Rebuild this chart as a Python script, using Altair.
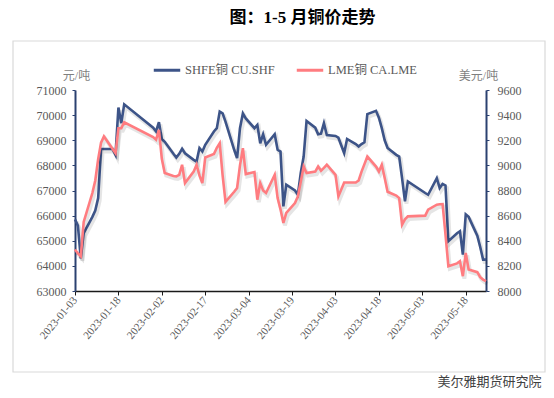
import altair as alt
import pandas as pd

dates = [
    "2023-01-03", "2023-01-04", "2023-01-05", "2023-01-06",
    "2023-01-09", "2023-01-10", "2023-01-11", "2023-01-12", "2023-01-13",
    "2023-01-16", "2023-01-17", "2023-01-18", "2023-01-19", "2023-01-20",
    "2023-01-30", "2023-01-31", "2023-02-01", "2023-02-02", "2023-02-03",
    "2023-02-06", "2023-02-07", "2023-02-08", "2023-02-09", "2023-02-10",
    "2023-02-13", "2023-02-14", "2023-02-15", "2023-02-16", "2023-02-17",
    "2023-02-20", "2023-02-21", "2023-02-22", "2023-02-23", "2023-02-24",
    "2023-02-27", "2023-02-28", "2023-03-01", "2023-03-02", "2023-03-03",
    "2023-03-06", "2023-03-07", "2023-03-08", "2023-03-09", "2023-03-10",
    "2023-03-13", "2023-03-14", "2023-03-15", "2023-03-16", "2023-03-17",
    "2023-03-20", "2023-03-21", "2023-03-22", "2023-03-23", "2023-03-24",
    "2023-03-27", "2023-03-28", "2023-03-29", "2023-03-30", "2023-03-31",
    "2023-04-03", "2023-04-04", "2023-04-06", "2023-04-07",
    "2023-04-10", "2023-04-11", "2023-04-12", "2023-04-13", "2023-04-14",
    "2023-04-17", "2023-04-18", "2023-04-19", "2023-04-20", "2023-04-21",
    "2023-04-24", "2023-04-25", "2023-04-26", "2023-04-27", "2023-04-28",
    "2023-05-04", "2023-05-05",
    "2023-05-08", "2023-05-09", "2023-05-10", "2023-05-11", "2023-05-12",
    "2023-05-15", "2023-05-16", "2023-05-17", "2023-05-18", "2023-05-19",
    "2023-05-22", "2023-05-23", "2023-05-24", "2023-05-25",
]

shfe = [
    65850, 65600, 64300, 65300,
    65950, 66200, 66700, 68650, 68650,
    68650, 68420, 70300, 69680, 70430,
    69500, 69350, 69720, 69050, 68940,
    68460, 68310, 68460, 68660, 68480,
    68220, 68150, 68690, 68550, 68820,
    69350, 69480, 70140, 70070, 69740,
    68620, 68290, 69480, 70070, 69870,
    69480, 69610, 68880, 69240, 68820,
    69240, 68620, 68550, 66370, 67230,
    67000, 66830, 67700, 68350, 69770,
    69500, 69240, 69260, 69680, 69210,
    69170, 69100, 68490, 69050,
    68850, 68750, 68850, 68920, 70040,
    70170, 69900, 69480, 69000, 68690,
    68420, 68350, 67490, 66570, 67360,
    66900, 66830,
    67490, 67100, 67260, 67200, 64980,
    65300, 65380, 64450, 66050, 65950,
    65200, 64750, 64250, 64250,
]

lme = [
    8330, 8300, 8276, 8550,
    8780, 8880, 9050, 9180, 9230,
    9130, 9097, 9296, 9296, 9343,
    9225, 9205, 9282, 9052, 8939,
    8915, 8912, 8925, 9005, 8859,
    8950, 9005, 8920, 8859, 9063,
    9090, 9140, 9177, 8920, 8710,
    8790, 8820, 9000, 9137, 8931,
    8947, 8727, 8859, 8800, 8780,
    8925, 8740, 8650, 8542, 8621,
    8700, 8753, 8870, 8991, 8939,
    8950, 8991, 8957, 8980, 9005,
    8925, 8753, 8864, 8864,
    8864, 8880, 8950, 9010, 9070,
    8990, 8951, 9005, 8900, 8790,
    8760, 8740, 8528, 8570, 8594,
    8600, 8647,
    8687, 8690, 8692, 8450, 8197,
    8220, 8237, 8118, 8303, 8171,
    8150, 8110, 8091, 8078,
]

tick_dates = ["2023-01-03", "2023-01-18", "2023-02-02", "2023-02-17", "2023-03-04",
              "2023-03-19", "2023-04-03", "2023-04-18", "2023-05-03", "2023-05-18"]
left_ticks = [63000, 64000, 65000, 66000, 67000, 68000, 69000, 70000, 71000]
right_ticks = [8000, 8200, 8400, 8600, 8800, 9000, 9200, 9400, 9600]

SER_SHFE = "SHFE铜 CU.SHF"
SER_LME = "LME铜 CA.LME"
BLUE = "#3D5488"
PINK = "#FF7C80"
NAVY = "#2B4170"
GREY = "#595959"
SERIF = "Liberation Serif, Noto Sans CJK SC"

long = pd.concat([
    pd.DataFrame({"date": dates, "series": SER_SHFE, "value": shfe}),
    pd.DataFrame({"date": dates, "series": SER_LME, "value": lme}),
], ignore_index=True)


def dt(s):
    y, m, d = map(int, s.split("-"))
    return alt.DateTime(year=y, month=m, date=d, utc=True)


x_enc = alt.X(
    "date:T",
    scale=alt.Scale(type="utc", domain=[dt("2023-01-03"), dt("2023-05-25")]),
    axis=alt.Axis(
        values=[dt(s) for s in tick_dates], format="%Y-%m-%d", labelAngle=-50,
        labelAlign="right", labelBaseline="middle", labelFontSize=11,
        labelPadding=3, tickSize=4, domainColor="#1a1a1a", tickColor="#1a1a1a",
        domainWidth=1.5, grid=False,
        title="美尔雅期货研究院", titleX=362, titleY=90, titleAlign="left",
        titleBaseline="middle", titleFont="Noto Sans CJK SC", titleFontSize=13,
        titleFontWeight="normal", titleColor="#404040",
    ),
)

color_enc = alt.Color(
    "series:N",
    scale=alt.Scale(domain=[SER_SHFE, SER_LME], range=[BLUE, PINK]),
    legend=alt.Legend(
        orient="none", legendX=77, legendY=-35, direction="horizontal", title=None,
        symbolType="stroke", symbolSize=700, symbolStrokeWidth=3,
        labelFont=SERIF, labelFontSize=12.5, labelColor=GREY, columnPadding=15,
        padding=0, labelOffset=3,
    ),
)

y_left = alt.Y(
    "value:Q",
    scale=alt.Scale(domain=[63000, 71000], nice=False, zero=False),
    axis=alt.Axis(
        orient="left", values=left_ticks, format="d", grid=False,
        domainColor=NAVY, tickColor=NAVY, domainWidth=2, tickSize=3, labelPadding=6,
        labelFontSize=12, title="元/吨", titleAngle=0, titleX=1, titleY=-15,
        titleAlign="center", titleBaseline="middle", titleFont=SERIF,
        titleFontSize=12, titleFontWeight="normal", titleColor="#7f7f7f",
    ),
)

y_right = alt.Y(
    "value:Q",
    scale=alt.Scale(domain=[8000, 9600], nice=False, zero=False),
    axis=alt.Axis(
        orient="right", values=right_ticks, format="d", grid=False,
        domainColor=NAVY, tickColor=NAVY, domainWidth=2, tickSize=3, labelPadding=8,
        labelFontSize=12, title="美元/吨", titleAngle=0, titleX=-8, titleY=-15,
        titleAlign="center", titleBaseline="middle", titleFont=SERIF,
        titleFontSize=12, titleFontWeight="normal", titleColor="#7f7f7f",
    ),
)

base = alt.Chart(long)

shfe_shadow = base.transform_filter(alt.datum.series == SER_SHFE).mark_line(
    color="#000000", opacity=0.1, strokeWidth=4, xOffset=1.5, yOffset=2.5
).encode(x=x_enc, y=y_left)
shfe_line = base.transform_filter(alt.datum.series == SER_SHFE).mark_line(
    strokeWidth=2.6
).encode(x=x_enc, y=y_left, color=color_enc)

lme_shadow = base.transform_filter(alt.datum.series == SER_LME).mark_line(
    color="#000000", opacity=0.1, strokeWidth=4, xOffset=1.5, yOffset=2.5
).encode(x=x_enc, y=y_right)
lme_line = base.transform_filter(alt.datum.series == SER_LME).mark_line(
    strokeWidth=2.6
).encode(x=x_enc, y=y_right, color=color_enc)

frame = alt.Chart(alt.Data(values=[{}])).mark_rect(
    fill=None, stroke="#d9d9d9", strokeWidth=1.2
).encode(
    x=alt.value(-62), x2=alt.value(470), y=alt.value(-49), y2=alt.value(282)
)

left = alt.layer(shfe_shadow, shfe_line)
right = alt.layer(lme_shadow, lme_line)

chart = alt.layer(frame, left, right).resolve_scale(y="independent").properties(
    width=411, height=201,
    autosize=alt.AutoSizeParams(type="none"),
    padding={"left": 67, "top": 82, "right": 60, "bottom": 99},
    title=alt.TitleParams(
        "图：1-5 月铜价走势", anchor="middle", frame="group", font=SERIF,
        fontSize=17, fontWeight="bold", color="#000000", dx=22, offset=13,
    ),
).configure_view(stroke=None).configure_axis(
    labelFont=SERIF, labelColor=GREY
)

chart.save("out.html", embed_options={"renderer": "svg", "actions": False})
